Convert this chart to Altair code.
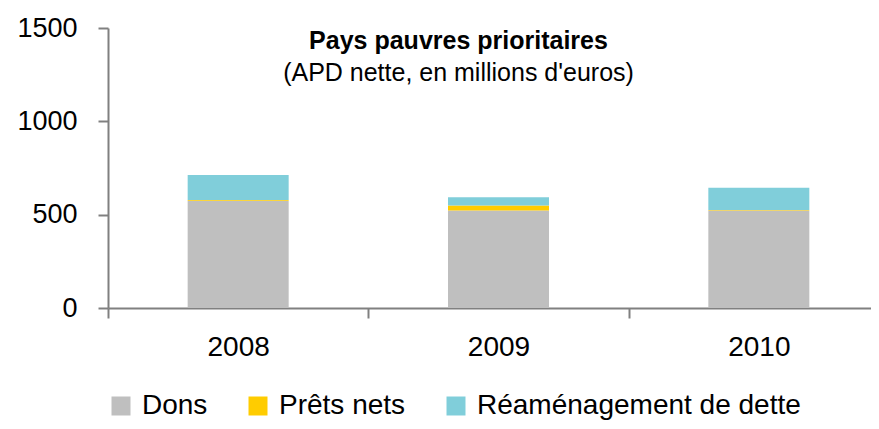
import altair as alt
import pandas as pd

years = ["2008", "2009", "2010"]
series = ["Dons", "Prêts nets", "Réaménagement de dette"]
dons = [575, 522, 522]
prets = [4, 27, 3]
reamenagement = [133, 44, 119]
colors = ["#BFBFBF", "#FFCC00", "#80CEDA"]
y_ticks = [0, 500, 1000, 1500]

rows = []
for i, yr in enumerate(years):
    for j, (name, vals) in enumerate(zip(series, [dons, prets, reamenagement])):
        rows.append({"Année": yr, "Type": name, "Valeur": vals[i], "ordre": j})
df = pd.DataFrame(rows)

FONT = "Liberation Sans"

chart = alt.Chart(df).mark_bar(size=101).encode(
    x=alt.X(
        "Année:N",
        sort=years,
        scale=alt.Scale(range=[0, 781], paddingInner=0, paddingOuter=0),
        axis=alt.Axis(
            title=None, labelAngle=0, tickBand="extent", domainColor="#808080",
            domainWidth=2, tickColor="#808080", tickWidth=2, tickSize=10,
            labelFont=FONT, labelFontSize=28, labelColor="#000000", labelPadding=15,
        ),
    ),
    y=alt.Y(
        "Valeur:Q",
        stack="zero",
        scale=alt.Scale(domain=[0, 1500], nice=False),
        axis=alt.Axis(
            title=None, values=y_ticks, grid=False, format="d", domainColor="#808080",
            domainWidth=2, tickColor="#808080", tickWidth=2, tickSize=10,
            labelFont=FONT, labelFontSize=27, labelColor="#000000", labelPadding=21,
        ),
    ),
    color=alt.Color(
        "Type:N",
        scale=alt.Scale(domain=series, range=colors),
        sort=series,
        legend=alt.Legend(
            title=None, orient="none", direction="horizontal", legendX=-1, legendY=364,
            symbolType="square", symbolSize=361, symbolStrokeWidth=0, symbolOpacity=1,
            labelFont=FONT, labelFontSize=28, labelColor="#000000", labelOffset=7,
            columnPadding=36, labelLimit=500,
        ),
    ),
    order=alt.Order("ordre:Q", sort="ascending"),
).properties(
    width=763,
    height=280,
    autosize=alt.AutoSizeParams(type="none"),
    padding={"left": 100, "top": 20, "right": 0, "bottom": 113},
    title=alt.TitleParams(
        text="Pays pauvres prioritaires",
        subtitle="(APD nette, en millions d'euros)",
        font=FONT, fontSize=25, fontWeight="bold", color="#000000",
        subtitleFont=FONT, subtitleFontSize=25, subtitleColor="#000000",
        subtitlePadding=7,
        anchor="middle", frame="group", dx=-31, offset=-72,
    ),
).configure_view(stroke=None)

chart.save("out.html", embed_options={"renderer": "svg", "actions": False})
